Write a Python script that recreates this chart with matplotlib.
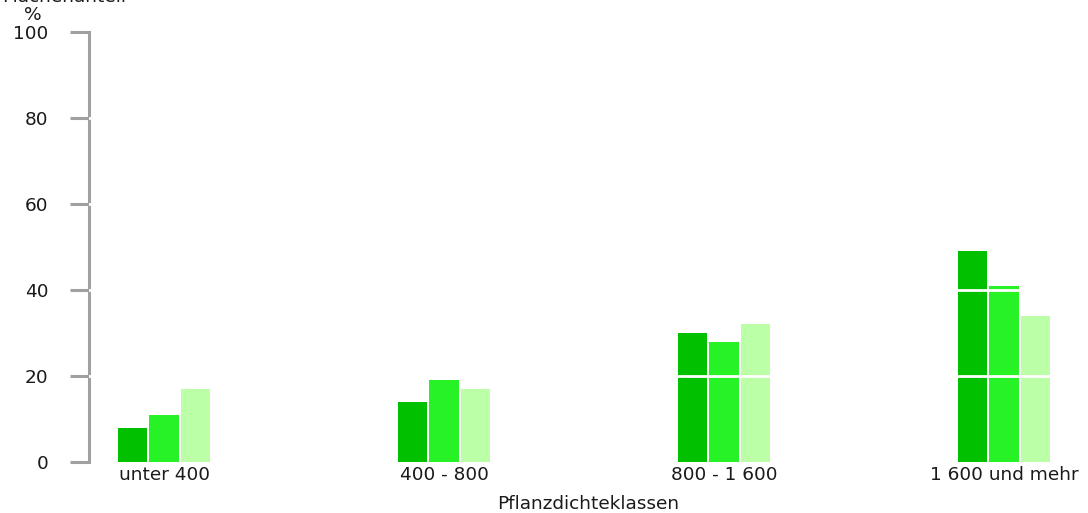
import matplotlib
matplotlib.use("Agg")
import matplotlib.pyplot as plt
import numpy as np

categories = ["unter 400", "400 - 800", "800 - 1 600", "1 600 und mehr"]
series_a = [8, 14, 30, 49]
series_b = [11, 19, 28, 41]
series_c = [17, 17, 32, 34]
yticks = [0, 20, 40, 60, 80, 100]
colors = ["#00C000", "#26F226", "#BBFFA6"]

plt.rcParams['font.family'] = ['DejaVu Sans']
FS = 13.3
TC = "#1a1a1a"

fig = plt.figure(figsize=(10.88, 5.13), dpi=100)
ax = fig.add_axes([89/1088, 1-462/513, 1-89/1088, (462-32)/513])

x = np.arange(len(categories))
off = 0.1125
w = 0.104
for i, (vals, c) in enumerate(zip([series_a, series_b, series_c], colors)):
    ax.bar(x + (i-1)*off, vals, width=w, color=c, zorder=2)

for g in [20, 40, 60, 80]:
    ax.axhline(g, color="white", lw=2, zorder=3)

ax.set_xlim(-0.268, 3.3)
ax.set_ylim(0, 100)
ax.set_yticks(yticks)
ax.set_yticklabels([str(t) for t in yticks], fontsize=FS, color=TC)
ax.set_xticks(x)
ax.set_xticklabels(categories, fontsize=FS, color=TC)
ax.tick_params(axis='x', length=0, pad=3)
ax.tick_params(axis='y', length=14, width=2.2, color="#a0a0a0", pad=15)
for s in ["top", "right", "bottom"]:
    ax.spines[s].set_visible(False)
ax.spines["left"].set_color("#a0a0a0")
ax.spines["left"].set_linewidth(2.2)
ax.set_xlabel("Pflanzdichteklassen", fontsize=FS, color=TC, labelpad=8)

fig.text(33/1088, 1-15/513, "%", fontsize=FS, ha="center", va="center", color=TC)
fig.text(2/1088, 1+3.5/513, "Flächenanteil", fontsize=FS, ha="left", va="center", color=TC)

fig.savefig("out.png", dpi=100)
